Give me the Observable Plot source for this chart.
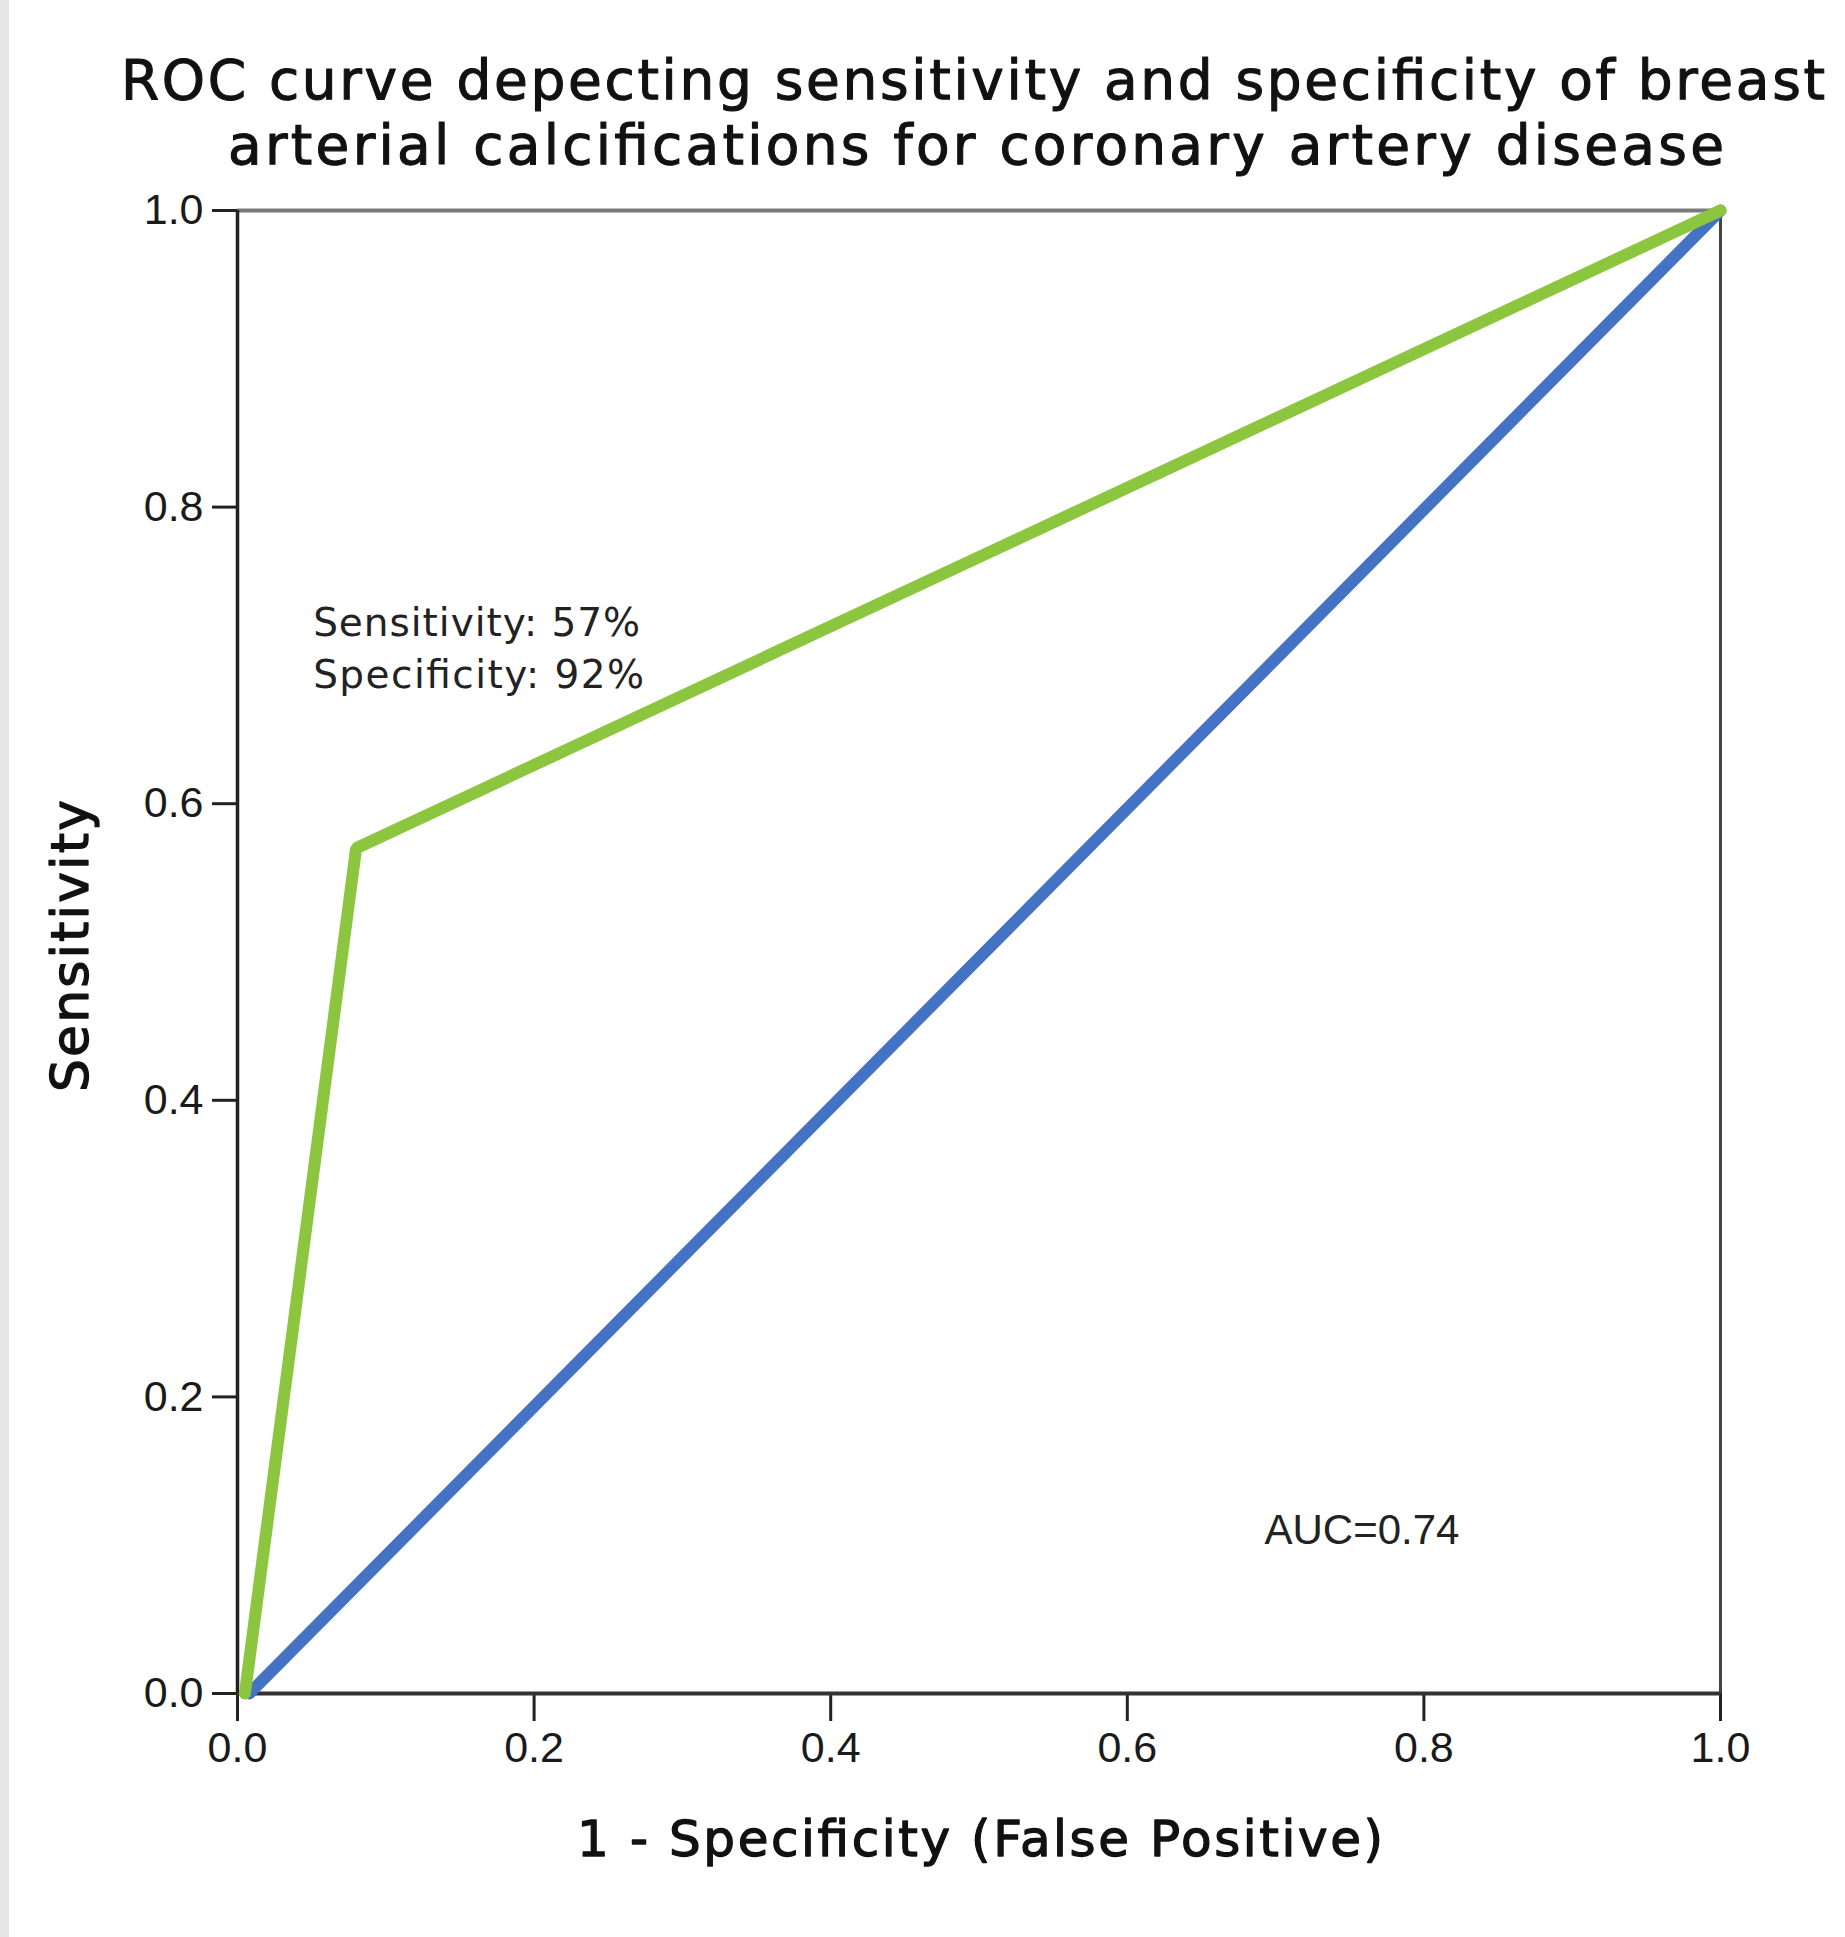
<!DOCTYPE html>
<html><head><meta charset="utf-8">
<script src="https://cdn.jsdelivr.net/npm/d3@7"></script>
<script src="https://cdn.jsdelivr.net/npm/@observablehq/plot@0.6"></script>
<style>
html,body{margin:0;padding:0;background:#fff;}
#chart{position:absolute;left:0;top:0;}
#strip{position:absolute;left:0;top:0;width:9px;height:1937px;background:#e6e6e6;}
</style></head><body>
<div id="chart"></div><div id="strip"></div>
<script>
// ---- data ----
const xTicks = [0, 0.2, 0.4, 0.6, 0.8, 1.0];
const yTicks = [0, 0.2, 0.4, 0.6, 0.8, 1.0];
const rocFPR = [0.005, 0.08, 1.0];   // 1 - specificity
const rocTPR = [0.0, 0.57, 1.0];     // sensitivity
const refFPR = [0.008, 1.0];
const refTPR = [0.0, 1.0];
const titleLines = ["ROC curve depecting sensitivity and specificity of breast", "arterial calcifications for coronary artery disease"];
const xLabel = "1 - Specificity (False Positive)";
const yLabel = "Sensitivity";
const noteLines = ["Sensitivity: 57%", "Specificity: 92%"];
const aucLabel = "AUC=0.74";

// ---- layout (positions in data space / frame offsets) ----
const notePos = [{x: 0.051, y: 0.713}, {x: 0.051, y: 0.678}];
const aucPos = {x: 0.6925, y: 0.101};
const yLabelPos = {x: -0.1005, y: 0.504};

const roc = rocFPR.map((x, i) => ({x, y: rocTPR[i]}));
const ref = refFPR.map((x, i) => ({x, y: refTPR[i]}));
const fmt = d3.format(".1f");
const TF = "'DejaVu Sans', Verdana, sans-serif";
const AF = "'Liberation Sans', Arial, sans-serif";

const plot = Plot.plot({
  width: 1845, height: 1937,
  marginLeft: 237, marginRight: 125, marginTop: 210, marginBottom: 244,
  x: {domain: [0, 1]},
  y: {domain: [0, 1]},
  style: {fontFamily: AF, background: "transparent", overflow: "visible"},
  marks: [
    Plot.ruleY([1], {stroke: "#7a7a7a", strokeWidth: 4}),
    Plot.ruleX([1], {stroke: "#444", strokeWidth: 3}),
    Plot.axisY({ticks: yTicks, tickFormat: fmt, tickSize: 25, tickPadding: 9, fontSize: 43, stroke: "#222", strokeWidth: 3, fill: "#1a1a1a", label: null}),
    Plot.axisX({ticks: xTicks, tickFormat: fmt, tickSize: 28, tickPadding: 10, fontSize: 43, stroke: "#222", strokeWidth: 3, fill: "#1a1a1a", label: null}),
    Plot.ruleX([0], {stroke: "#222", strokeWidth: 3.5}),
    Plot.ruleY([0], {stroke: "#333", strokeWidth: 4}),
    Plot.line(ref, {x: "x", y: "y", stroke: "#4472c4", strokeWidth: 12}),
    Plot.line(roc, {x: "x", y: "y", stroke: "#8cc63f", strokeWidth: 12, strokeLinejoin: "miter"}),
    Plot.text([titleLines[0]], {text: d => d, frameAnchor: "top", dx: -6, dy: -112, lineAnchor: "bottom", fontFamily: TF, fontSize: 55, fill: "#111", stroke: "#111", strokeWidth: 1.1}),
    Plot.text([titleLines[1]], {text: d => d, frameAnchor: "top", dx: -3, dy: -47, lineAnchor: "bottom", fontFamily: TF, fontSize: 55, fill: "#111", stroke: "#111", strokeWidth: 1.1}),
    Plot.text([xLabel], {text: d => d, frameAnchor: "bottom", dx: 1, dy: 162, lineAnchor: "bottom", fontFamily: TF, fontSize: 50, fill: "#111", stroke: "#111", strokeWidth: 1.3}),
    Plot.text([yLabel], {text: d => d, x: yLabelPos.x, y: yLabelPos.y, rotate: -90, textAnchor: "middle", lineAnchor: "bottom", fontFamily: TF, fontSize: 52, fill: "#111", stroke: "#111", strokeWidth: 1.3}),
    Plot.text(noteLines, {text: d => d, x: (d, i) => notePos[i].x, y: (d, i) => notePos[i].y, textAnchor: "start", lineAnchor: "bottom", fontFamily: TF, fontSize: 39, fill: "#222"}),
    Plot.text([aucLabel], {text: d => d, x: aucPos.x, y: aucPos.y, textAnchor: "start", lineAnchor: "bottom", fontFamily: AF, fontSize: 42, fill: "#222"})
  ]
});
document.getElementById("chart").appendChild(plot);

// fit some texts to the measured widths of the reference
const fitWidths = new Map([
  [titleLines[0], 1704], [titleLines[1], 1496], [xLabel, 806], [yLabel, 292],
  [noteLines[0], 327], [noteLines[1], 331]
]);
plot.querySelectorAll("text").forEach(t => {
  const w = fitWidths.get(t.textContent);
  if (w) {
    t.setAttribute("textLength", w);
    t.setAttribute("lengthAdjust", "spacing");
  }
});
</script>
</body></html>
